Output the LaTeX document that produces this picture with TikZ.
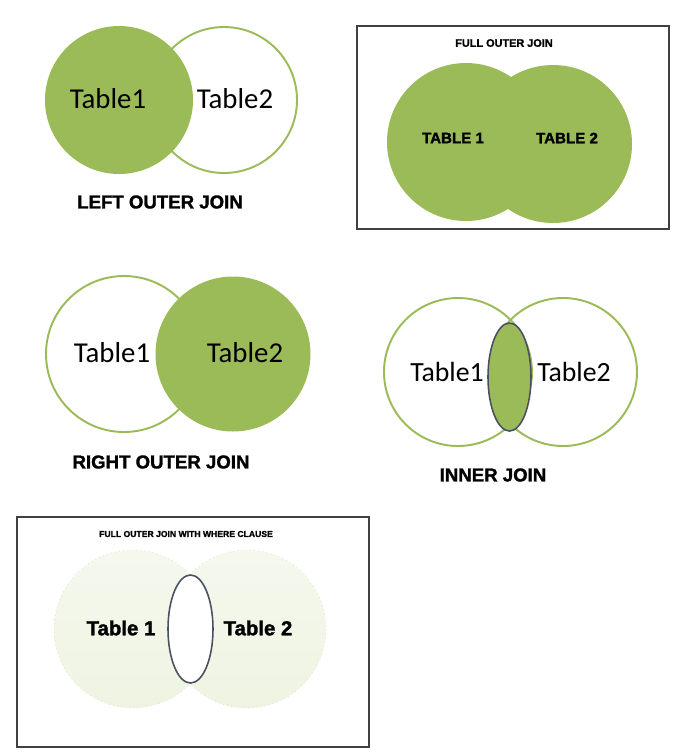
\documentclass[tikz,border=0pt]{standalone}
\usepackage{fontspec}
\setmainfont{Liberation Sans}
\newfontfamily\calfont{Carlito}
\newfontfamily\heavyfont[BoldFeatures={FakeBold=1.5}]{Liberation Sans}
\definecolor{joingreen}{HTML}{9BBB59}
\definecolor{palegreen}{HTML}{EEF4E2}
\definecolor{lensgray}{HTML}{4A5060}
\definecolor{boxgray}{HTML}{404040}
\tikzset{
  tabletext/.style={font=\calfont\fontsize{16.4}{18}\selectfont},
  joincaption/.style={font=\heavyfont\bfseries\fontsize{10.6}{12}\selectfont},
  ring/.style={draw=joingreen, line width=1.1pt},
  lens/.style={draw=lensgray, line width=0.9pt},
}
\begin{document}
\begin{tikzpicture}[x=0.02cm, y=-0.02cm]
\useasboundingbox (0,0) rectangle (688,752);
% left outer join
\draw[ring, fill=white] (224,100) circle (73);
\fill[joingreen] (119,100) circle (74);
\node[tabletext] (lt1) at (108,99) {Table1};
\node[tabletext] (lt2) at (235,99) {Table2};
\node[joincaption] (lcap) at (160,202) {LEFT OUTER JOIN};
% full outer join
\draw[boxgray, line width=0.8pt] (357,26) rectangle (669,229);
\fill[joingreen] (466,142) circle (79);
\fill[joingreen] (553,144) circle (79);
\node[font=\heavyfont\bfseries\fontsize{6.2}{7}\selectfont] (fcap) at (504,43) {FULL OUTER JOIN};
\node[font=\heavyfont\bfseries\fontsize{8.6}{10}\selectfont] (ft1) at (453,138) {TABLE 1};
\node[font=\heavyfont\bfseries\fontsize{8.6}{10}\selectfont] (ft2) at (567,138) {TABLE 2};
% right outer join
\draw[ring, fill=white] (124,354) circle (78);
\fill[joingreen] (233,354) circle (77.5);
\node[tabletext] (rt1) at (112,353) {Table1};
\node[tabletext] (rt2) at (245,353) {Table2};
\node[joincaption] (rcap) at (161,462) {RIGHT OUTER JOIN};
% inner join
\draw[ring] (458,372) circle (74);
\draw[ring] (563,372) circle (74);
\draw[lens, fill=joingreen] (509.5,377) ellipse (21.5 and 54);
\node[tabletext, font=\calfont\fontsize{15.8}{18}\selectfont] (it1) at (447,372) {Table1};
\node[tabletext, font=\calfont\fontsize{15.8}{18}\selectfont] (it2) at (574,372) {Table2};
\node[joincaption] (icap) at (493,475) {INNER JOIN};
% full outer join with where clause
\draw[boxgray, line width=0.8pt] (17,517) rectangle (369,747);
\draw[joingreen!40, dotted, top color=palegreen!60, bottom color=palegreen] (133,629) circle (79);
\draw[joingreen!40, dotted, top color=palegreen!60, bottom color=palegreen] (247,629) circle (79);
\draw[lens, fill=white] (190.5,629) ellipse (22.5 and 54);
\node[font=\heavyfont\bfseries\fontsize{4.9}{6}\selectfont] (wcap) at (186,534) {FULL OUTER JOIN WITH WHERE CLAUSE};
\node[font=\heavyfont\bfseries\fontsize{11.6}{13}\selectfont] (wt1) at (121,628) {Table 1};
\node[font=\heavyfont\bfseries\fontsize{11.6}{13}\selectfont] (wt2) at (258,628) {Table 2};
\end{tikzpicture}
\end{document}
